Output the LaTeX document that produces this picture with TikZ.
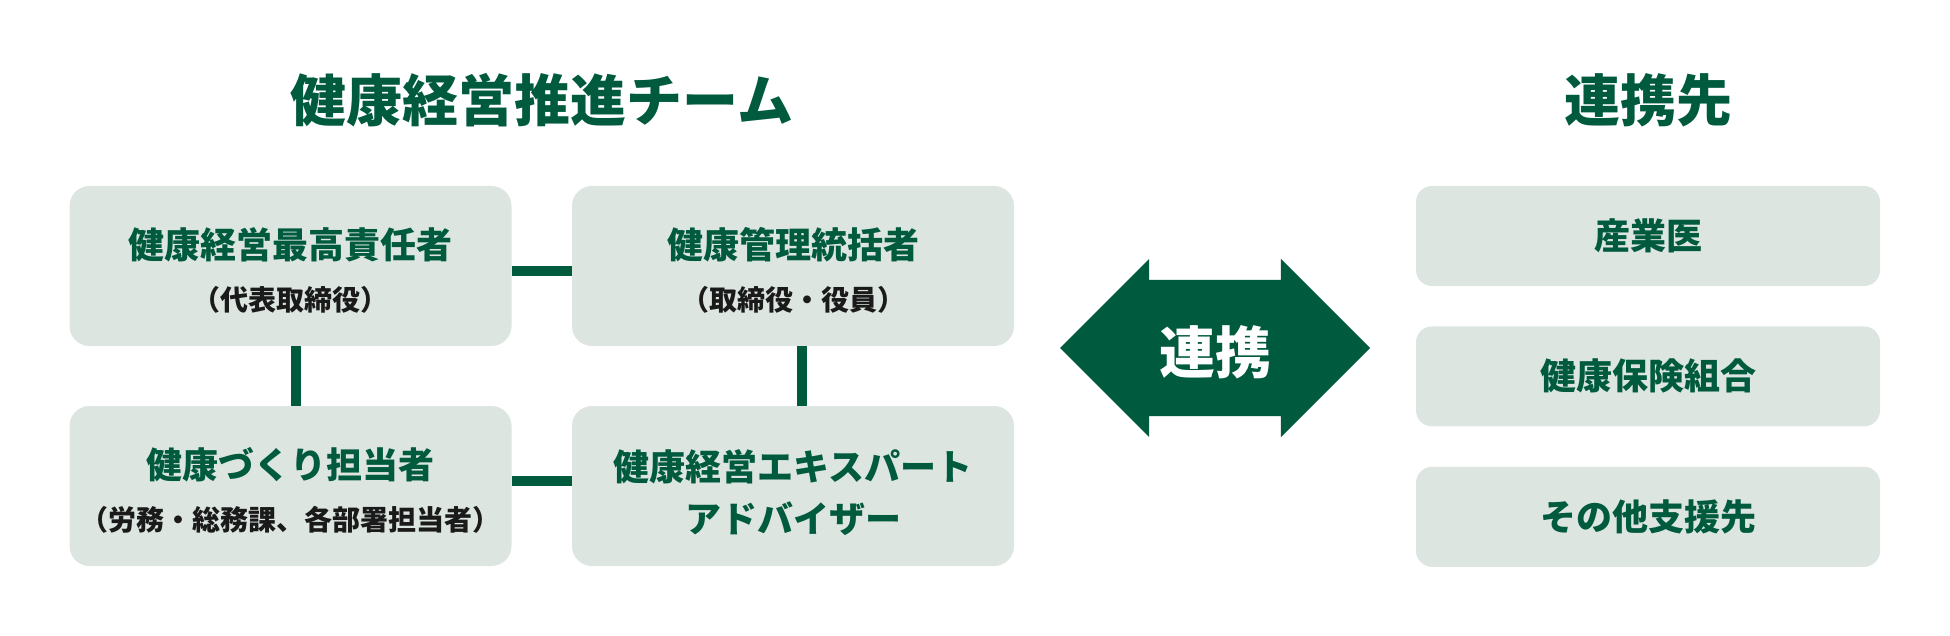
\documentclass[tikz,border=0pt]{standalone}
\usepackage{fontspec}
\setmainfont{Noto Sans CJK JP}
\usetikzlibrary{positioning}
\usetikzlibrary{shapes.arrows}
\definecolor{kgreen}{HTML}{005A3E}
\definecolor{kgray}{HTML}{DCE5DF}
\definecolor{kblack}{HTML}{1A1A1A}
\newcommand{\subline}[1]{{\color{kblack}\fontsize{28}{52}\selectfont #1}}

\begin{document}
\begin{tikzpicture}[x=1pt,y=-1pt,
  box/.style={fill=kgray,rounded corners=20pt,inner sep=0pt,minimum width=442pt,minimum height=160pt,
    align=center,text=kgreen,font=\bfseries\fontsize{36}{52}\selectfont,text height=89pt,text depth=0pt},
  rbox/.style={fill=kgray,rounded corners=16pt,inner sep=0pt,minimum width=464pt,minimum height=100pt,
    text=kgreen,font=\bfseries\fontsize{36}{40}\selectfont},
  title/.style={text=kgreen,inner sep=0pt,font=\bfseries\fontsize{56}{60}\selectfont},
  tie/.style={draw=kgreen,line width=10pt},
  dbl/.style={double arrow,fill=kgreen,text=white,font=\bfseries\fontsize{56}{60}\selectfont,
    double arrow tip angle=90,double arrow head extend=21pt,inner xsep=0pt,inner ysep=43pt,
    text height=50pt,text depth=0pt,minimum height=310pt}]
\useasboundingbox (0,0) rectangle (1950,636);

  \node[title] (team) at (542,100) {健康経営推進チーム};
  \node[title] (partner) at (1648,100) {連携先};

  % team
  \node[box] (ceo) at (290.5,266) {健康経営最高責任者\\\subline{（代表取締役）}};
  \node[box] (mgr) at (793,266) {健康管理統括者\\\subline{（取締役・役員）}};
  \node[box] (staff) at (290.5,486) {健康づくり担当者\\\subline{（労務・総務課、各部署担当者）}};
  \node[box,text height=92pt] (adv) at (793,486) {健康経営エキスパート\\アドバイザー};

  \draw[tie]([yshift=-5pt]ceo.east)--([yshift=-5pt]mgr.west);
  \draw[tie]([yshift=5pt]staff.east)--([yshift=5pt]adv.west);
  \draw[tie]([xshift=5pt]ceo.south)--([xshift=5pt]staff.north);
  \draw[tie]([xshift=9pt]mgr.south)--([xshift=9pt]adv.north);

  \node[dbl] (renkei) at (1215,348) {連携};

  % partners
  \node[rbox] (doc) at (1648,236) {産業医};
  \node[rbox,below=40pt of doc] (kenpo) {健康保険組合};
  \node[rbox,below=40pt of kenpo] (other) {その他支援先};
\end{tikzpicture}
\end{document}
